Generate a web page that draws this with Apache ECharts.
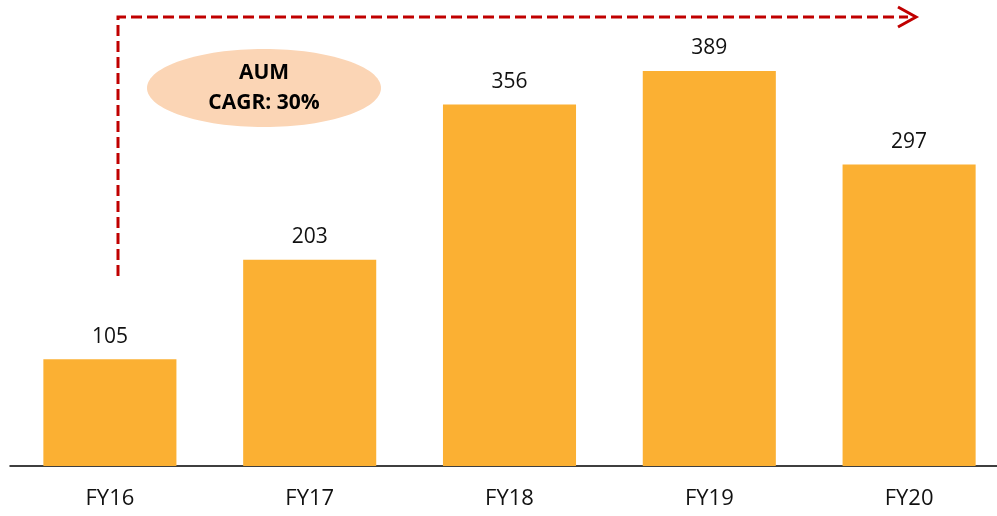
<!DOCTYPE html>
<html>
<head>
<meta charset="utf-8">
<script src="https://cdn.jsdelivr.net/npm/echarts@6/dist/echarts.min.js"></script>
<style>
  html, body { margin: 0; padding: 0; background: #fff; }
  #chart { width: 997px; height: 516px; }
</style>
</head>
<body>
<div id="chart"></div>
<script>
// AUM by year
var years = ["FY16", "FY17", "FY18", "FY19", "FY20"];
var aum = [105, 203, 356, 389, 297];

var chart = echarts.init(document.getElementById("chart"));
var option = {
  animation: false,
  grid: {
    left: 10,
    top: 7,
    right: -12,
    bottom: 50,
    outerBoundsMode: "none"
  },
  xAxis: {
    type: "category",
    data: years,
    axisLine: { lineStyle: { color: "#000", width: 1.5 } },
    axisTick: { show: false },
    axisLabel: {
      color: "#111",
      fontSize: 22,
      fontFamily: "Open Sans",
      margin: 22
    }
  },
  yAxis: {
    type: "value",
    min: 0,
    max: 452,
    show: false,
    splitLine: { show: false }
  },
  series: [
    {
      type: "bar",
      data: aum,
      barCategoryGap: "33.4%",
      itemStyle: { color: "#FBB033" },
      label: {
        show: true,
        position: "top",
        distance: 12,
        color: "#111",
        fontSize: 21,
        fontFamily: "Open Sans"
      }
    }
  ],
  graphic: [
    {
      // dashed growth arrow
      type: "polyline",
      shape: { points: [[118, 276], [118, 17], [908, 17]] },
      style: { stroke: "#C00000", lineWidth: 3, lineDash: [11, 5], fill: null }
    },
    {
      type: "polyline",
      shape: { points: [[898, 7], [916, 17], [898, 27]] },
      style: { stroke: "#C00000", lineWidth: 3, fill: null }
    },
    {
      type: "ellipse",
      shape: { cx: 264, cy: 88, rx: 117, ry: 39 },
      style: { fill: "#FBD5B5" }
    },
    {
      type: "text",
      x: 264,
      y: 88,
      style: {
        text: "AUM\nCAGR: 30%",
        align: "center",
        verticalAlign: "middle",
        fill: "#000",
        font: "bold 21px 'Open Sans'",
        lineHeight: 30
      }
    }
  ]
};
chart.setOption(option);
</script>
</body>
</html>
